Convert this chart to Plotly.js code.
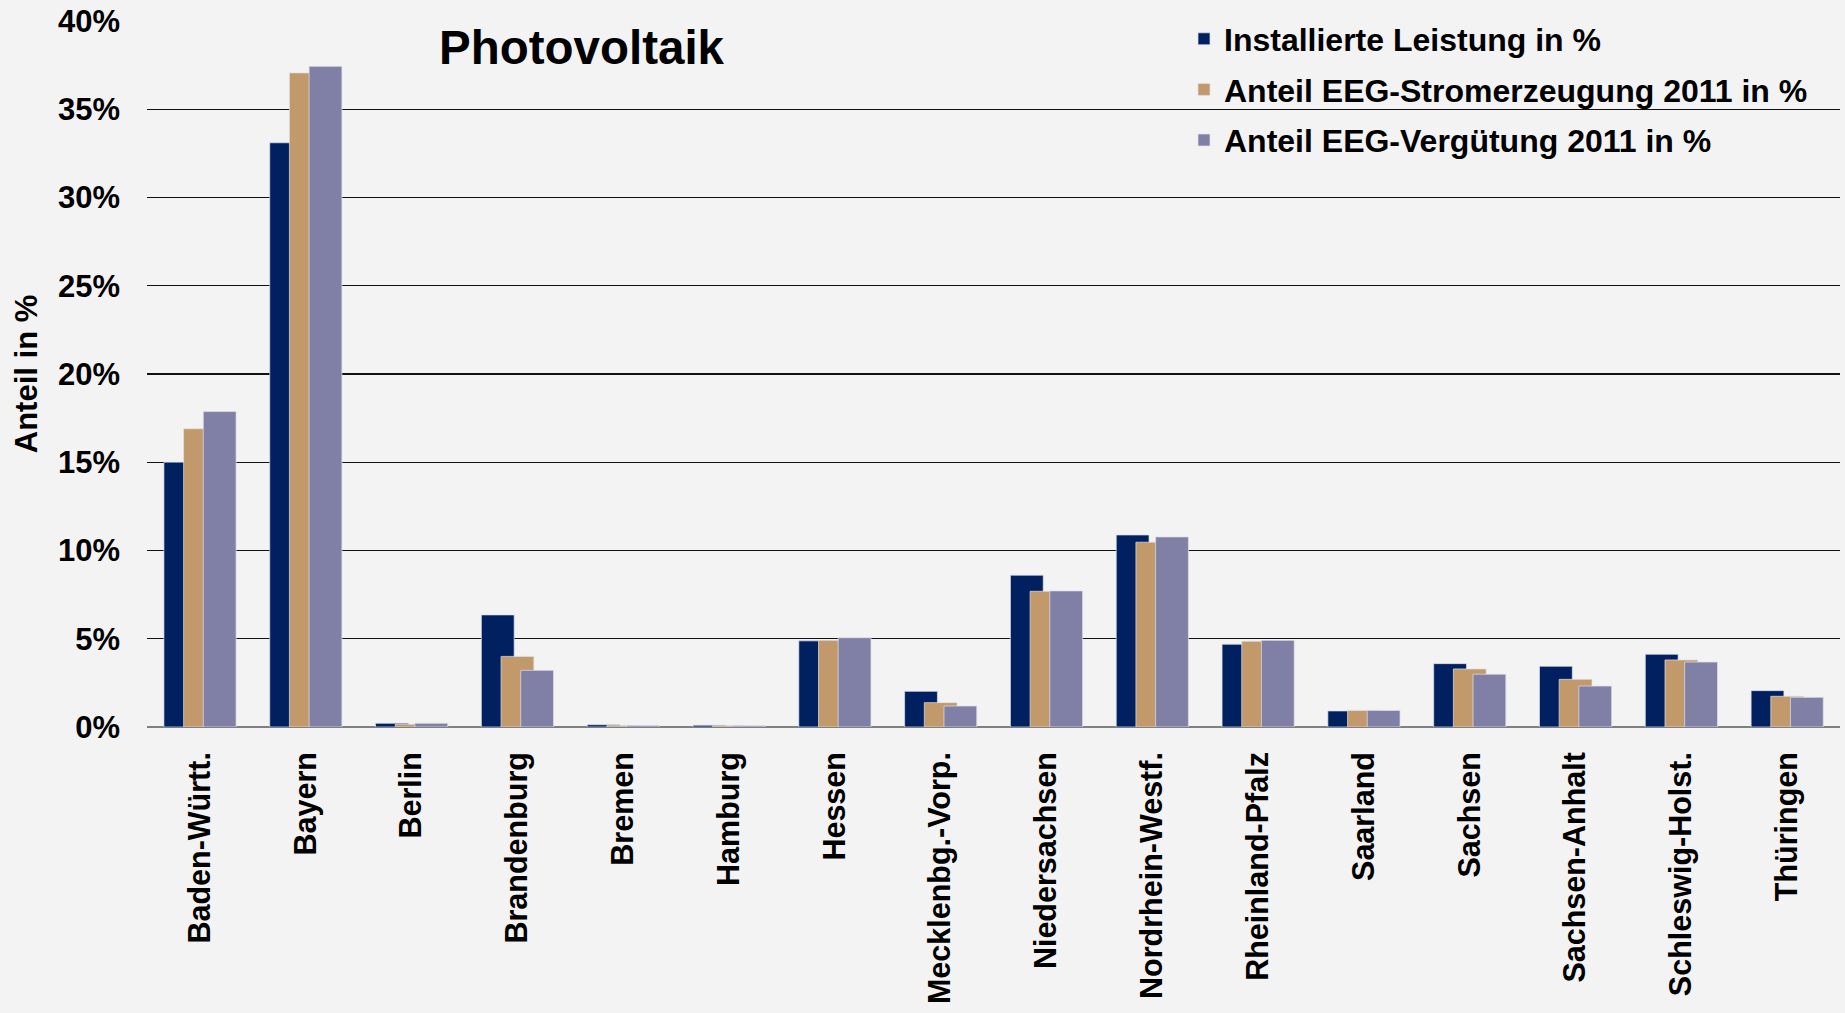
<!DOCTYPE html>
<html><head><meta charset="utf-8">
<script src="https://cdn.plot.ly/plotly-3.0.1.min.js"></script>
<style>html,body{margin:0;padding:0;background:#f3f3f3;}</style>
</head><body><div id="chart" style="width:1845px;height:1013px;"></div>
<script>
const categories = ["Baden-Württ.","Bayern","Berlin","Brandenburg","Bremen","Hamburg","Hessen","Mecklenbg.-Vorp.","Niedersachsen","Nordrhein-Westf.","Rheinland-Pfalz","Saarland","Sachsen","Sachsen-Anhalt","Schleswig-Holst.","Thüringen"];
const seriesNames = ["Installierte Leistung in %","Anteil EEG-Stromerzeugung 2011 in %","Anteil EEG-Vergütung 2011 in %"];
const installierteLeistung = [15.0,33.1,0.21,6.35,0.13,0.10,4.88,2.02,8.6,10.88,4.69,0.91,3.59,3.44,4.12,2.06];
const anteilStromerzeugung = [16.9,37.06,0.15,4.0,0.08,0.07,4.91,1.38,7.69,10.47,4.86,0.94,3.29,2.70,3.80,1.74];
const anteilVerguetung = [17.87,37.43,0.21,3.21,0.09,0.07,5.06,1.19,7.71,10.77,4.91,0.94,2.99,2.32,3.68,1.68];
const yTickVals = [0,5,10,15,20,25,30,35,40];
const yTickText = ["0%","5%","10%","15%","20%","25%","30%","35%","40%"];

const colors = ["#002060","#C1996B","#8080A6"];
const values = [installierteLeistung, anteilStromerzeugung, anteilVerguetung];
const offsets = [-0.34,-0.154,0.032];
const FONT = "Liberation Sans, Arial, sans-serif";

const traces = values.map((v,i)=>({
  type:"bar", x:categories, y:v, name:seriesNames[i],
  width:0.31, offset:offsets[i], legendgroup:"g"+i,
  marker:{color:colors[i], line:{color:"rgba(225,225,235,0.7)", width:1}},
  hoverinfo:"x+y"
}));

const layout = {
  width:1845, height:1013,
  paper_bgcolor:"#f3f3f3", plot_bgcolor:"#f3f3f3",
  barmode:"overlay",
  margin:{l:147,r:5,t:21,b:286,autoexpand:false},
  font:{family:FONT, color:"#000", size:30},
  title:{text:"<b>Photovoltaik</b>", x:439/1845, xanchor:"left", y:1-47/1013, yanchor:"middle", font:{family:FONT,size:47.5,color:"#000"}},
  xaxis:{type:"category", tickangle:-90, showgrid:false, showline:false, ticks:"", ticklabelstandoff:18,
    tickfont:{family:FONT,size:30.5,color:"#000",weight:"bold"}, range:[-0.5,15.5]},
  yaxis:{range:[0,40], tickvals:yTickVals, ticktext:yTickText, showgrid:true, gridcolor:"#111", gridwidth:1.2,
    zeroline:true, zerolinecolor:"#808080", zerolinewidth:2.5, showline:false, ticks:"", ticklabelstandoff:26,
    tickfont:{family:FONT,size:31,color:"#000",weight:"bold"},
    title:{text:"<b>Anteil in %</b>", standoff:11, font:{family:FONT,size:31,color:"#000"}}},
  legend:{xref:"paper", yref:"paper", x:(1184-147)/1693, y:1+(21-11.5)/706, xanchor:"left", yanchor:"top",
    bgcolor:"rgba(0,0,0,0)", traceorder:"grouped", tracegroupgap:6,
    font:{family:FONT,size:32,color:"#000",weight:"bold"}},
  showlegend:true
};
Plotly.newPlot("chart", traces, layout, {displayModeBar:false, staticPlot:true});
</script></body></html>
